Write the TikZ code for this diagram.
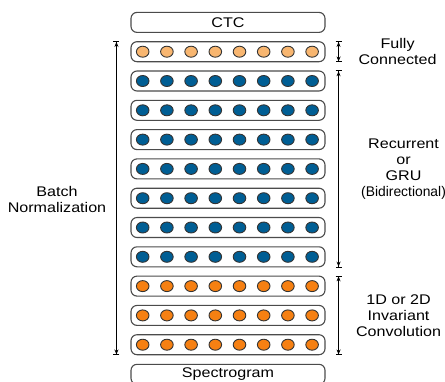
\documentclass[tikz,border=0pt]{standalone}
\usepackage{fontspec}
\setmainfont{Liberation Sans}[FakeStretch=1.15]
\usetikzlibrary{arrows.meta,shapes.geometric,positioning}
\definecolor{fcpeach}   {RGB}{248,182,112}
\definecolor{rnnblue}   {RGB}{0,94,148}
\definecolor{convorange}{RGB}{246,128,18}
\definecolor{edgegray}  {RGB}{75,75,75}
\tikzset{
  layerbox/.style={draw=edgegray, line width=1.1bp, rounded corners=6bp,
                   minimum width=194bp, minimum height=20bp, inner sep=0pt},
  unit/.style    ={ellipse, draw=black!80, line width=0.9bp, fill=#1,
                   minimum width=12.6bp, minimum height=11bp, inner sep=0pt},
  lbl/.style     ={align=center, font=\fontsize{14bp}{16bp}\selectfont},
  spanarr/.style ={{Bar[width=6bp]Stealth[length=5bp,width=4bp]}-%
                   {Stealth[length=5bp,width=4bp]Bar[width=6bp]},
                   line width=0.8bp},
}

\begin{document}
\begin{tikzpicture}[x=1bp, y=-1bp]
  \clip (0,0) rectangle (445,381);
  \node[layerbox, lbl] (ctc) at (228,22.4) {CTC};

  % network layers, top to bottom
  \foreach \nm/\col [count=\i from 1] in
      {fc/fcpeach, rnn1/rnnblue, rnn2/rnnblue, rnn3/rnnblue, rnn4/rnnblue,
       rnn5/rnnblue, rnn6/rnnblue, rnn7/rnnblue,
       conv1/convorange, conv2/convorange, conv3/convorange}{
    \node[layerbox] (\nm) at (228,22.4+29.3*\i) {};
    \foreach \k in {1,...,8}
      \node[unit=\col] (\nm-\k) at (142.7+24.2*\k-24.2,22.4+29.3*\i) {};
  }

  \node[layerbox, lbl] (spec) at (228,374.3) {Spectrogram};

  \node[lbl] (bntxt)   at (57,199.5) {Batch\\Normalization};
  \node[lbl] (fctxt)   at ([xshift=72bp]fc.east) {Fully\\Connected};
  \node[lbl] (rnntxt)  at ([xshift=78bp]rnn4.east)
        {Recurrent\\or\\GRU\\\scalebox{0.86}[1]{(Bidirectional)}};
  \node[lbl] (convtxt) at ([xshift=73bp]conv2.east)
        {1D or 2D\\Invariant\\Convolution};

  \draw[spanarr] ([xshift=-14bp]fc.north west) -- ([xshift=-14bp]conv3.south west);
  \draw[spanarr] ([xshift=13bp]fc.north east) -- ([xshift=13bp]fc.south east);
  \draw[spanarr] ([xshift=13bp]rnn1.north east) -- ([xshift=13bp]rnn7.south east);
  \draw[spanarr] ([xshift=13bp]conv1.north east) -- ([xshift=13bp]conv3.south east);
\end{tikzpicture}
\end{document}
